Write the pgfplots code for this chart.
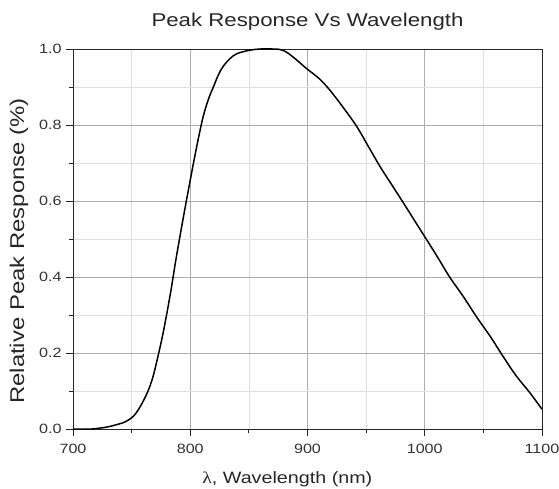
\documentclass[border=0pt]{standalone}
\usepackage{pgfplots}
\pgfplotsset{compat=1.18}
\usepackage{fontspec}
\setmainfont{Liberation Sans}[FakeStretch=1.2]
\newfontfamily\lamfont{Liberation Serif}[FakeStretch=1.2]
\definecolor{tickgray}{HTML}{333333}
\begin{document}
\begin{tikzpicture}
\begin{axis}[
  scale only axis,
  width=469bp, height=380bp,
  xmin=700, xmax=1100, ymin=0, ymax=1,
  xtick={700,800,900,1000,1100},
  xticklabels={700,800,900,1000,1100},
  ytick={0,0.2,0.4,0.6,0.8,1.0},
  yticklabels={0.0,0.2,0.4,0.6,0.8,1.0},
  minor xtick={750,850,950,1050},
  minor ytick={0.1,0.3,0.5,0.7,0.9},
  grid=both,
  major grid style={draw=black!32, line width=0.6pt},
  minor grid style={draw=black!13, line width=0.5pt},
  axis line style={draw=black!85, line width=0.8pt},
  tick style={draw=black!85, line width=0.8pt},
  tick align=outside,
  major tick length=7bp,
  minor tick length=4bp,
  xtick pos=bottom, ytick pos=left,
  /pgf/number format/assume math mode=true,
  xticklabel style={font=\fontsize{13.5}{15}\selectfont, text=tickgray, yshift=-5bp},
  yticklabel style={font=\fontsize{13.5}{15}\selectfont, text=tickgray, xshift=-1bp},
  xlabel={\fontsize{16.5}{18}\selectfont {\lamfont λ}, Wavelength (nm)},
  ylabel={\fontsize{20}{22}\selectfont Relative Peak Response (\%)},
  xlabel style={text=black!85, at={(axis description cs:0.457,0)}, anchor=base, yshift=-54bp},
  ylabel style={text=black!85, at={(axis description cs:-0.1151,0.4684)}, anchor=center},
  title={\fontsize{18.6}{20}\selectfont Peak Response Vs Wavelength},
  title style={text=black!85, at={(axis description cs:0.5,1)}, anchor=base, yshift=17bp},
]
\addplot[black, line width=1.5pt, smooth, tension=0.55] coordinates {
(700,0) (710,0) (716,0) (722,0.002) (727,0.004) (733,0.008) (739,0.013)
(744,0.018) (748,0.025) (752,0.035) (756,0.052) (760,0.074) (764,0.100)
(768,0.135) (772,0.185) (777,0.255) (783,0.355) (788,0.450) (794,0.555)
(800,0.655) (805.5,0.743) (811,0.822) (816,0.872) (820,0.902) (824,0.932) (828,0.954)
(834,0.975) (840,0.988) (851,0.997) (860,1.0) (870,1.0) (876,0.999)
(882,0.992) (890,0.973) (899,0.949) (910,0.922) (919,0.892) (930,0.848)
(942,0.796) (952,0.743) (962,0.690) (972,0.642) (982,0.594) (991,0.550)
(1000,0.506) (1011,0.452) (1021,0.401) (1033,0.348) (1044,0.296)
(1056,0.243) (1067,0.190) (1078,0.140) (1090,0.094) (1100,0.052)
};
\end{axis}
\pgfresetboundingbox
\path[use as bounding box] ([shift={(-73bp,-60bp)}]current axis.south west) rectangle ([shift={(17bp,49bp)}]current axis.north east);
\end{tikzpicture}
\end{document}
